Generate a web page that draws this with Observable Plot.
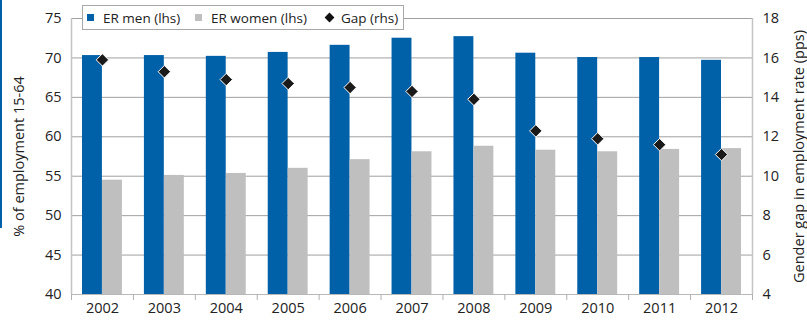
<!DOCTYPE html>
<html><head><meta charset="utf-8">
<script src="https://cdn.jsdelivr.net/npm/d3@7"></script>
<script src="https://cdn.jsdelivr.net/npm/@observablehq/plot@0.6"></script>
<style>
body{margin:0;background:#fff;font-family:"Open Sans",sans-serif;}
#wrap{position:relative;width:807px;height:320px;overflow:hidden;}
#edge{position:absolute;left:0;top:0;width:2px;height:228px;background:#0061a9;}
#legend{position:absolute;left:82px;top:5px;width:322px;height:25px;border:1px solid #a8a8a8;background:#fff;font-size:13.5px;color:#222;box-sizing:border-box;white-space:nowrap;}
#legend .it{position:absolute;top:0;height:23px;display:flex;align-items:center;}
#legend .sw{width:7px;height:7px;margin-right:9px;display:inline-block;}
#legend .dm{width:7px;height:7px;background:#111;transform:rotate(45deg);margin-right:8px;display:inline-block;}
</style></head>
<body><div id="wrap"><div id="edge"></div></div>
<script>
const years = ["2002","2003","2004","2005","2006","2007","2008","2009","2010","2011","2012"];
const erMen = [70.3,70.3,70.2,70.7,71.6,72.5,72.7,70.6,70.05,70.05,69.7];
const erWomen = [54.5,55.1,55.35,56.0,57.1,58.1,58.8,58.3,58.1,58.4,58.5];
const gap = [15.9,15.3,14.9,14.7,14.5,14.3,13.9,12.3,11.9,11.6,11.1];
const leftTicks = [40,45,50,55,60,65,70,75];
const rightTicks = [4,6,8,10,12,14,16,18];
const seriesNames = ["ER men (lhs)","ER women (lhs)","Gap (rhs)"];

const W = 807, H = 320, mL = 71, mR = 55, mT = 18, mB = 26;
const bw = (W - mL - mR) / years.length;
const toLeft = g => 40 + (g - 4) * 35 / 14;
const fromLeft = v => (v - 40) * 14 / 35 + 4;

const men = years.map((y,i)=>({year:y, v:erMen[i]}));
const women = years.map((y,i)=>({year:y, v:erWomen[i]}));
const gp = years.map((y,i)=>({year:y, v:toLeft(gap[i])}));

const chart = Plot.plot({
  width: W, height: H,
  marginLeft: mL, marginRight: mR, marginTop: mT, marginBottom: mB,
  style: {fontFamily: "'Open Sans', sans-serif", fontSize: "13px", color: "#222", background: "#fff"},
  x: {domain: years, padding: 0, round: false},
  y: {domain: [40,75]},
  marks: [
    Plot.gridY(leftTicks, {stroke: "#a0a0a0", strokeOpacity: 1}),
    Plot.ruleY([40], {stroke: "#b8b8b8"}),
    Plot.ruleX([years[0]], {x: d=>d, dx: -bw/2, y1: 40, y2: 75, stroke: "#c4c4c4", strokeWidth: 1.5}),
    Plot.ruleX([years[years.length-1]], {x: d=>d, dx: bw/2, y1: 40, y2: 75, stroke: "#c4c4c4", strokeWidth: 1.5}),
    Plot.ruleX(years, {x: d=>d, dx: -bw/2, y1: 40, y2: 40 - 6*35/(H-mT-mB), stroke: "#b0b0b0"}),
    Plot.ruleX([years[years.length-1]], {x: d=>d, dx: bw/2, y1: 40, y2: 40 - 6*35/(H-mT-mB), stroke: "#b0b0b0"}),
    Plot.barY(men, {x: "year", y1: 40, y2: "v", fill: "#0061a9", insetLeft: 11, insetRight: 31}),
    Plot.barY(women, {x: "year", y1: 40, y2: "v", fill: "#bfbfbf", insetLeft: 31, insetRight: 11}),
    Plot.dot(gp, {x: "year", y: "v", symbol: "diamond2", r: 5.6, fill: "#1a1a1a", stroke: "#fff", strokeWidth: 1}),
    Plot.axisX({tickSize: 0, tickPadding: 8, fontSize: 14.5, label: null}),
    Plot.axisY(leftTicks, {anchor: "left", tickSize: 0, tickPadding: 10, fontSize: 14.5,
      label: "% of employment 15-64", labelAnchor: "center", labelArrow: "none", labelOffset: 58}),
    Plot.axisY(rightTicks.map(toLeft), {anchor: "right", tickSize: 0, tickPadding: 10, fontSize: 14.5,
      tickFormat: v => String(Math.round(fromLeft(v))),
      label: "Gender gap in employment rate (pps)", labelAnchor: "center", labelArrow: "none", labelOffset: 51})
  ]
});
document.getElementById("wrap").appendChild(chart);
chart.style.position = "absolute"; chart.style.left = "0"; chart.style.top = "0";

const lg = document.createElement("div"); lg.id = "legend";
lg.innerHTML = `<span class="it" style="left:4px"><span class="sw" style="background:#0061a9"></span>${seriesNames[0]}</span>`+
  `<span class="it" style="left:112px"><span class="sw" style="background:#bfbfbf"></span>${seriesNames[1]}</span>`+
  `<span class="it" style="left:243px"><span class="dm"></span>${seriesNames[2]}</span>`;
document.getElementById("wrap").appendChild(lg);
document.getElementById("wrap").appendChild(document.getElementById("edge"));
</script></body></html>
